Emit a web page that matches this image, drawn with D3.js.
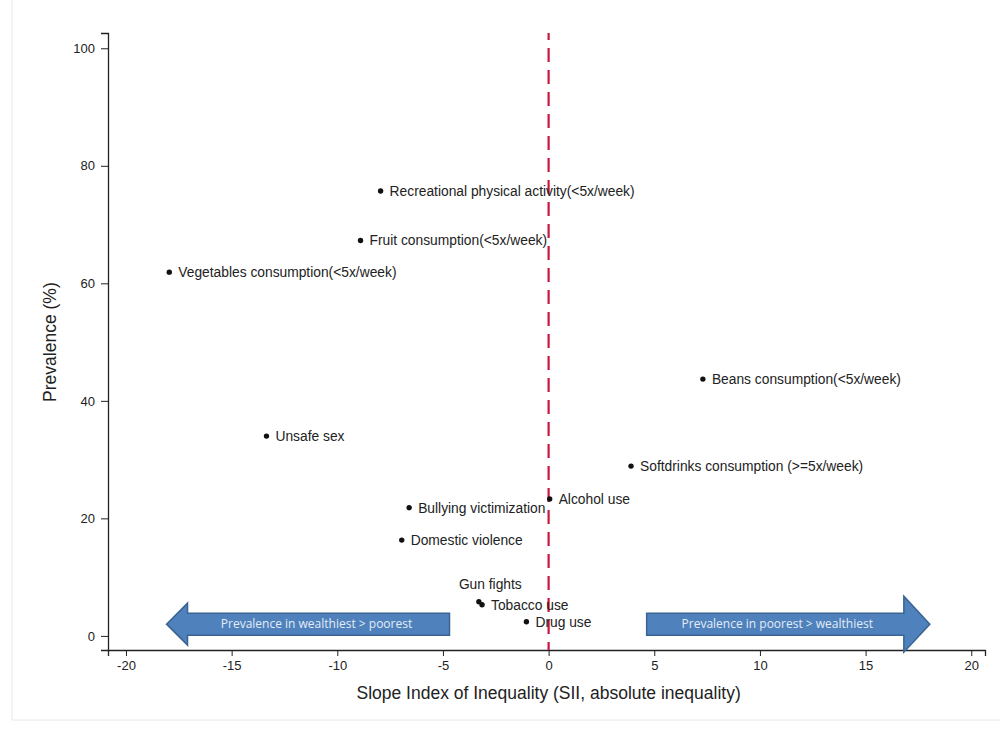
<!DOCTYPE html>
<html>
<head>
<meta charset="utf-8">
<script src="https://cdn.jsdelivr.net/npm/d3@7"></script>
<style>
    body { margin: 0; background: #fff; }
    svg { display: block; }
    .tick text { font-family: "Liberation Sans", Arial, sans-serif; font-size: 13px; fill: #222; }
    .domain, .tick line { stroke: #222; }
</style>
</head>
<body>
<div id="chart"></div>
<script>
// outcome labels, SII (x) and prevalence % (y)
const outcomes = [
    'Recreational physical activity(<5x/week)',
    'Fruit consumption(<5x/week)',
    'Vegetables consumption(<5x/week)',
    'Beans consumption(<5x/week)',
    'Unsafe sex',
    'Softdrinks consumption (>=5x/week)',
    'Alcohol use',
    'Bullying victimization',
    'Domestic violence',
    'Gun fights',
    'Tobacco use',
    'Drug use'
];
const sii = [-7.95, -8.9, -17.95, 7.3, -13.35, 3.9, 0.05, -6.6, -6.95, -3.3, -3.15, -1.05];
const prevalence = [75.7, 67.3, 61.9, 43.7, 34.0, 28.9, 23.3, 21.8, 16.3, 5.8, 5.3, 2.4];
// label placement: 'r' right of the dot, 'ul' above-left
const labelPos = ['r', 'r', 'r', 'r', 'r', 'r', 'r', 'r', 'r', 'ul', 'r', 'r'];

const xTicks = [-20, -15, -10, -5, 0, 5, 10, 15, 20];
const yTicks = [0, 20, 40, 60, 80, 100];

// the two annotation arrows (in data units: tail x, tip x, y)
const arrowText = ['Prevalence in wealthiest > poorest', 'Prevalence in poorest > wealthiest'];
const arrowTail = [-4.69, 4.64];
const arrowTip = [-18.08, 18.04];
const arrowY = [2.0, 2.0];

const W = 1000, H = 733;

const svg = d3.select('#chart').append('svg')
    .attr('width', W)
    .attr('height', H);

// faint frame of the original figure
svg.append('rect')
    .attr('x', 12).attr('y', -2)
    .attr('width', W).attr('height', 722)
    .attr('fill', 'none')
    .attr('stroke', '#e3eaed');

const x = d3.scaleLinear()
    .domain([-20.85, 20.65])
    .range([108, 985]);

const y = d3.scaleLinear()
    .domain([-2.4, 102.6])
    .range([650, 33]);

const fmt = d => String(d); // plain hyphen, not the unicode minus

svg.append('g')
    .attr('transform', `translate(0, ${y.range()[0]})`)
    .call(d3.axisBottom(x).tickValues(xTicks).tickFormat(fmt).tickSizeOuter(0).tickSize(6).tickPadding(5));

svg.append('g')
    .attr('transform', `translate(${x.range()[0]}, 0)`)
    .call(d3.axisLeft(y).tickValues(yTicks).tickFormat(fmt).tickSizeOuter(0).tickSize(7).tickPadding(6));

svg.selectAll('.domain').attr('stroke-width', 1.3);

// axis titles
svg.append('text')
    .attr('x', x(0))
    .attr('y', 699)
    .attr('text-anchor', 'middle')
    .style('font-family', '"Liberation Sans", Arial, sans-serif')
    .style('font-size', '17.5px')
    .style('fill', '#222')
    .text('Slope Index of Inequality (SII, absolute inequality)');

svg.append('text')
    .attr('transform', `translate(56, ${y(50)}) rotate(-90)`)
    .attr('text-anchor', 'middle')
    .style('font-family', '"Liberation Sans", Arial, sans-serif')
    .style('font-size', '17.5px')
    .style('fill', '#222')
    .text('Prevalence (%)');

// reference line at SII = 0
svg.append('line')
    .attr('x1', x(0)).attr('x2', x(0))
    .attr('y1', y.range()[1]).attr('y2', y.range()[0])
    .attr('stroke', '#c8183f')
    .attr('stroke-width', 2.2)
    .attr('stroke-dasharray', '14 8')
    .attr('stroke-dashoffset', 7);

// arrows
const bodyHalf = 11;
const headHalf = [21, 28];
const headLen = [21, 26];

arrowText.forEach((t, i) => {
    const dir = Math.sign(arrowTip[i] - arrowTail[i]);
    const x0 = x(arrowTail[i]);
    const x2 = x(arrowTip[i]);
    const x1 = x2 - dir * headLen[i];
    const cy = y(arrowY[i]);
    const pts = [
        [x0, cy - bodyHalf], [x1, cy - bodyHalf], [x1, cy - headHalf[i]],
        [x2, cy], [x1, cy + headHalf[i]], [x1, cy + bodyHalf], [x0, cy + bodyHalf]
    ];
    svg.append('path')
        .attr('d', d3.line()(pts) + 'Z')
        .attr('fill', '#4f81bd')
        .attr('stroke', '#3a6491')
        .attr('stroke-width', 1.5)
        .attr('stroke-linejoin', 'miter');
    svg.append('text')
        .attr('x', (x0 + x1) / 2 + dir * 2)
        .attr('y', cy + 4)
        .attr('text-anchor', 'middle')
        .style('font-family', '"Open Sans", sans-serif')
        .style('font-size', '12px')
        .style('fill', '#e4ecf5')
        .text(t);
});

// points and labels
const pts = outcomes.map((name, i) => ({ name, sx: sii[i], py: prevalence[i], pos: labelPos[i] }));

svg.append('g').selectAll('circle')
    .data(pts)
    .enter()
    .append('circle')
    .attr('cx', d => x(d.sx))
    .attr('cy', d => y(d.py))
    .attr('r', 2.7)
    .attr('fill', '#111');

svg.append('g').selectAll('text')
    .data(pts)
    .enter()
    .append('text')
    .attr('x', d => d.pos === 'ul' ? x(d.sx) - 20 : x(d.sx) + 9)
    .attr('y', d => d.pos === 'ul' ? y(d.py) - 13 : y(d.py) + 5)
    .style('font-family', '"Liberation Sans", Arial, sans-serif')
    .style('font-size', '13.8px')
    .style('fill', '#222')
    .text(d => d.name);
</script>
</body>
</html>
